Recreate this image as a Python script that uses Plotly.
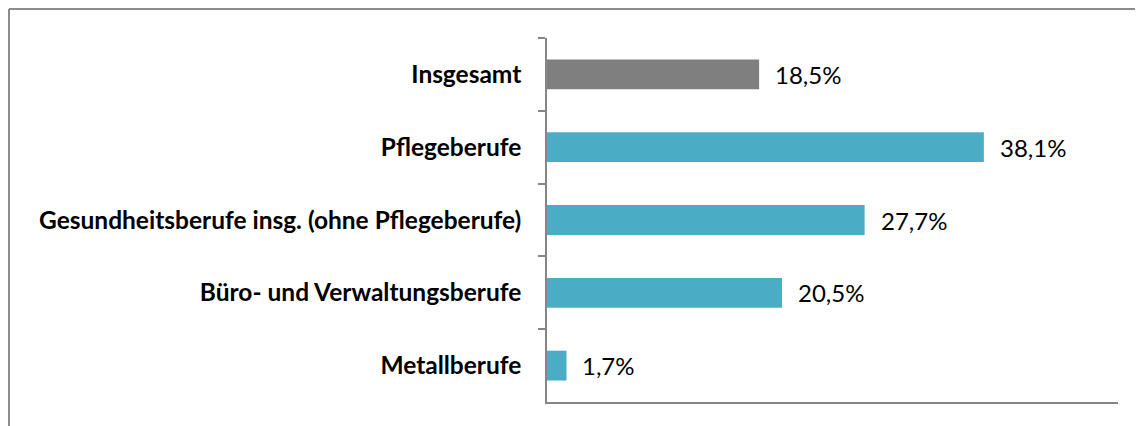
import plotly.graph_objects as go

categories = [
    "Insgesamt",
    "Pflegeberufe",
    "Gesundheitsberufe insg. (ohne Pflegeberufe)",
    "Büro- und Verwaltungsberufe",
    "Metallberufe",
]
values = [18.5, 38.1, 27.7, 20.5, 1.7]
bar_colors = ["#7F7F7F", "#4BACC6", "#4BACC6", "#4BACC6", "#4BACC6"]

# the page body adds an 8px margin, so the figure is 8px smaller than the window
W, H = 1135, 418
ML, MR, MT, MB = 539, 25, 30, 24
pw = W - ML - MR
ph = H - MT - MB


def px_x(p):
    return (p - ML) / pw


def px_y(p):
    return 1 - (p - MT) / ph


labels = [f"{v:.1f}%".replace(".", ",") for v in values]

fig = go.Figure(
    go.Bar(
        x=values,
        y=categories,
        orientation="h",
        marker_color=bar_colors,
        marker_line_width=0,
        width=0.41,
        hoverinfo="skip",
    )
)

for cat, v, lab in zip(categories, values, labels):
    fig.add_annotation(
        x=v, y=cat, text=lab, showarrow=False, xanchor="left", xshift=14,
        font=dict(family="Lato", size=24, color="#000000"),
    )

# outer frame (only top and left edges are visible)
fig.add_shape(type="line", xref="paper", yref="paper",
              x0=px_x(1), x1=px_x(W + 20), y0=px_y(1), y1=px_y(1),
              line=dict(color="#8C8C8C", width=2))
fig.add_shape(type="line", xref="paper", yref="paper",
              x0=px_x(1), x1=px_x(1), y0=px_y(1), y1=px_y(H + 20),
              line=dict(color="#8C8C8C", width=2))

fig.update_layout(
    width=W,
    height=H,
    margin=dict(l=ML, r=MR, t=MT, b=MB),
    plot_bgcolor="white",
    paper_bgcolor="white",
    showlegend=False,
    xaxis=dict(
        range=[0, 49.8],
        showgrid=False,
        zeroline=False,
        showticklabels=False,
        ticks="",
        showline=True,
        linecolor="#868686",
        linewidth=1.5,
        fixedrange=True,
    ),
    yaxis=dict(
        categoryorder="array",
        categoryarray=categories,
        autorange="reversed",
        showgrid=False,
        zeroline=False,
        showline=True,
        linecolor="#868686",
        linewidth=1.5,
        ticks="outside",
        tickson="boundaries",
        ticklen=7,
        tickcolor="#868686",
        tickwidth=1.5,
        ticklabelstandoff=19,
        tickfont=dict(family="Lato", size=24.5, color="#000000", weight="bold"),
        fixedrange=True,
    ),
)

fig.write_html("out.html")
